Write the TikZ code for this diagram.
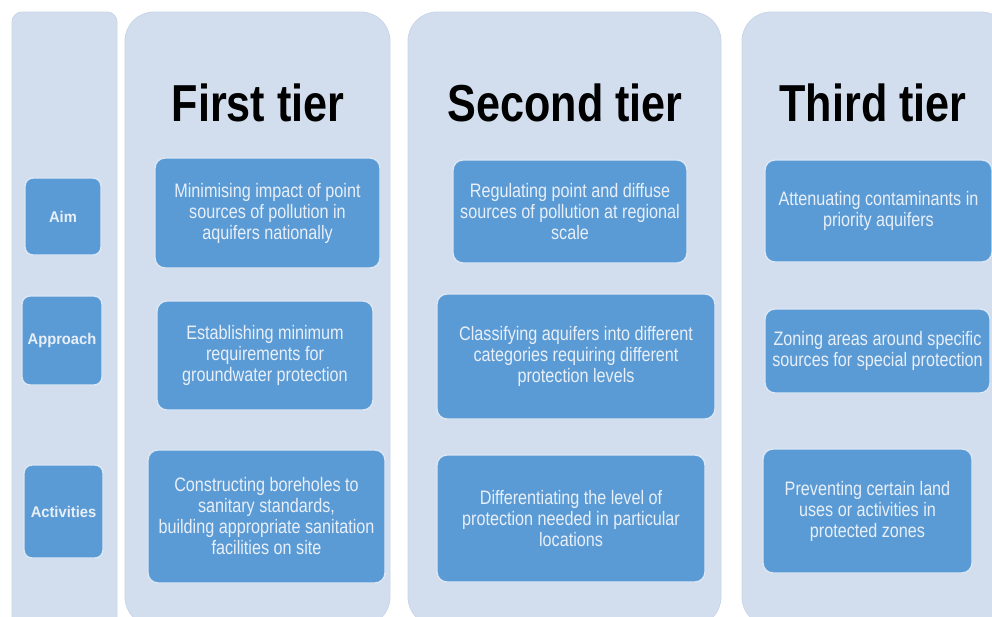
\documentclass[tikz,border=0pt]{standalone}
\usepackage{fontspec}
\setmainfont{Liberation Sans}
\newfontfamily\titlefont[FakeStretch=0.83]{Liberation Sans}
\newfontfamily\cellfont[FakeStretch=0.83]{Liberation Sans}
\newfontfamily\labelfont[FakeStretch=0.95]{Liberation Sans}

\definecolor{panelfill}{HTML}{D2DEEE}
\definecolor{paneledge}{HTML}{C9D6E8}
\definecolor{cellfill}{HTML}{5B9BD5}
\definecolor{celledge}{HTML}{DCE7F4}
\definecolor{celltext}{HTML}{E8EFF8}

\tikzset{
  panel/.style={fill=panelfill, draw=paneledge, line width=0.8pt, rounded corners=29pt},
  sidepanel/.style={fill=panelfill, draw=paneledge, line width=0.8pt, rounded corners=10pt},
  cell/.style={fill=cellfill, draw=celledge, line width=1.4pt, rounded corners=10pt,
    inner sep=0pt, align=center, text=celltext,
    font=\cellfont\fontsize{19.5}{21}\selectfont},
  rowlabel/.style={fill=cellfill, draw=celledge, line width=1.4pt, rounded corners=8pt,
    inner sep=0pt, align=center, text=celltext,
    font=\labelfont\bfseries\fontsize{15.5}{17}\selectfont},
  tiertitle/.style={anchor=base, text=black, inner sep=0pt,
    font=\titlefont\bfseries\fontsize{52}{56}\selectfont}
}

\begin{document}
\begin{tikzpicture}[x=1pt, y=-1pt]
  \path[use as bounding box] (0,0) rectangle (992,616);
  \clip (0,0) rectangle (992,616);

  % background columns
  \path[sidepanel] (12,12) rectangle (117,660);
  \path[panel] (125,12) rectangle (390,626);
  \path[panel] (408,12) rectangle (721,626);
  \path[panel] (742,12) rectangle (1010,626);

  % row headings
  \node[rowlabel, minimum width=76pt, minimum height=77pt] (aim) at (63,216.5) {Aim};
  \node[rowlabel, minimum width=80pt, minimum height=89pt] (approach) at (62,340.5) {Approach};
  \node[rowlabel, minimum width=79pt, minimum height=93pt] (activities) at (63.5,511.5) {Activities};

  % tier titles
  \node[tiertitle] (first) at (258,121) {First tier};
  \node[tiertitle] (second) at (565,121) {Second tier};
  \node[tiertitle] (third) at (873,121) {Third tier};

  % first tier
  \node[cell, minimum width=225pt, minimum height=110pt] (f1) at (267.5,213)
    {Minimising impact of point\\sources of pollution in\\aquifers nationally};
  \node[cell, minimum width=216pt, minimum height=109pt] (f2) at (265,355.5)
    {Establishing minimum\\requirements for\\groundwater protection};
  \node[cell, minimum width=237pt, minimum height=133pt] (f3) at (266.5,516.5)
    {Constructing boreholes to\\sanitary standards,\\building appropriate sanitation\\facilities on site};

  % second tier
  \node[cell, minimum width=234pt, minimum height=103pt] (s1) at (570,211.5)
    {Regulating point and diffuse\\sources of pollution at regional\\scale};
  \node[cell, minimum width=278pt, minimum height=125pt] (s2) at (576,356.5)
    {Classifying aquifers into different\\categories requiring different\\protection levels};
  \node[cell, minimum width=268pt, minimum height=127pt] (s3) at (571,518.5)
    {Differentiating the level of\\protection needed in particular\\locations};

  % third tier
  \node[cell, minimum width=227pt, minimum height=102pt] (t1) at (878.5,211)
    {Attenuating contaminants in\\priority aquifers};
  \node[cell, minimum width=225pt, minimum height=84pt] (t2) at (877.5,351)
    {Zoning areas around specific\\sources for special protection};
  \node[cell, minimum width=209pt, minimum height=124pt] (t3) at (867.5,511)
    {Preventing certain land\\uses or activities in\\protected zones};
\end{tikzpicture}
\end{document}
